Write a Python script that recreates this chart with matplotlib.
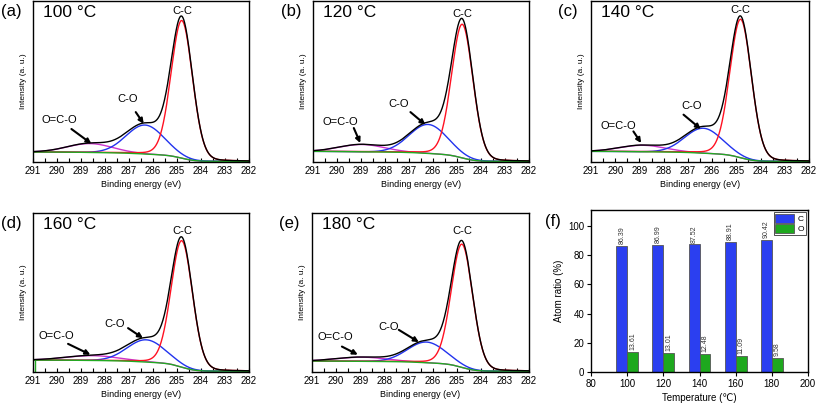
import numpy as np
import matplotlib
matplotlib.use('Agg')
import matplotlib.pyplot as plt

plt.rcParams['font.family'] = ['Liberation Sans', 'DejaVu Sans']

# ---- XPS C1s fits: one entry per panel (a)-(e) ----
panels = ['(a)', '(b)', '(c)', '(d)', '(e)']
temps = ['100 °C', '120 °C', '140 °C', '160 °C', '180 °C']

# peak centres (eV): C-C, C-O, O=C-O
cc_pos = [284.80, 284.78, 284.82, 284.80, 284.78]
co_pos = [286.33, 286.20, 286.36, 286.28, 286.25]
oco_pos = [288.62, 288.95, 288.85, 288.50, 288.90]
# peak heights above background (fraction of axis)
cc_h = [0.855, 0.830, 0.860, 0.795, 0.775]
co_h = [0.180, 0.180, 0.155, 0.140, 0.130]
oco_h = [0.055, 0.045, 0.040, 0.030, 0.026]
# FWHM (eV)
cc_w = [1.05, 1.05, 1.05, 1.05, 1.05]
co_w = [1.85, 1.85, 1.80, 1.85, 1.85]
oco_w = [2.2, 2.2, 2.2, 2.6, 2.4]
# Shirley background end levels (high-BE side, low-BE side)
bg_hi = [0.062, 0.066, 0.066, 0.075, 0.069]
bg_lo = [0.004, 0.004, 0.004, 0.005, 0.005]

# label positions (eV, y)
cc_txt = [(284.78, 0.94), (284.76, 0.92), (284.82, 0.945), (284.78, 0.885), (284.75, 0.885)]
co_txt = [(287.04, 0.39), (287.43, 0.36), (286.84, 0.346), (287.6, 0.303), (287.82, 0.286)]
co_arr = [((286.72, 0.31), (286.39, 0.238)), ((286.94, 0.31), (286.32, 0.232)),
          ((287.18, 0.294), (286.47, 0.205)), ((287.04, 0.276), (286.42, 0.213)),
          ((287.40, 0.265), (286.57, 0.188))]
oco_txt = [(289.9, 0.263), (289.86, 0.246), (289.87, 0.222), (290.03, 0.228), (290.03, 0.223)]
oco_arr = [((289.4, 0.205), (288.57, 0.114)), ((289.3, 0.211), (289.03, 0.118)),
           ((289.25, 0.19), (288.93, 0.118)), ((289.54, 0.177), (288.61, 0.109)),
           ((289.76, 0.16), (289.10, 0.109))]

# ---- panel (f): atom ratio ----
t_vals = [100, 120, 140, 160, 180]
c_ratio = [86.39, 86.99, 87.52, 88.91, 90.42]
o_ratio = [13.61, 13.01, 12.48, 11.09, 9.58]

# axes rectangles in figure fraction
rects = [[0.0404, 0.599, 0.2644, 0.3985], [0.3831, 0.599, 0.2644, 0.3985],
         [0.7234, 0.599, 0.2668, 0.3985], [0.0404, 0.0792, 0.2644, 0.3936],
         [0.3819, 0.0792, 0.2656, 0.3936]]
rect_f = [0.7234, 0.0792, 0.2656, 0.401]


def pv(x, c, h, w, eta=0.0):
    d = (x - c) / w
    return h * (eta / (1 + 4 * d ** 2) + (1 - eta) * np.exp(-4 * np.log(2) * d ** 2))


fig = plt.figure(figsize=(8.17, 4.04), dpi=100)
x = np.linspace(282, 291, 901)

for i in range(5):
    ax = fig.add_axes(rects[i])
    p_cc = pv(x, cc_pos[i], cc_h[i], cc_w[i], 0.1)
    p_co = pv(x, co_pos[i], co_h[i], co_w[i])
    p_oco = pv(x, oco_pos[i], oco_h[i], oco_w[i])
    tot = p_cc + p_co + p_oco
    # shirley type step, integrated from the low BE side
    cum = np.concatenate([[0], np.cumsum((tot[1:] + tot[:-1]) / 2)])
    bg = bg_lo[i] + (bg_hi[i] - bg_lo[i]) * cum / cum[-1]

    ax.plot(x, bg + p_oco, color='#cc33cc', lw=1)
    ax.plot(x, bg + p_co, color='#2233ee', lw=1)
    ax.plot(x, bg + p_cc, color='#ff1122', lw=1)
    ax.plot(x, bg, color='#22aa22', lw=1)
    if i == 3:
        ax.plot([290.92, 290.92], [0, bg[-1]], color='#22aa22', lw=1)
    ax.plot(x, bg + tot, color='black', lw=1)

    ax.set_xlim(291, 282)
    ax.set_ylim(0, 1)
    ax.set_yticks([])
    ax.set_xticks(range(291, 281, -1))
    ax.set_xticks(np.arange(290.5, 282, -1), minor=True)
    ax.tick_params(axis='x', which='both', direction='in', length=3, width=0.8,
                   labelsize=7, pad=3)
    for s in ax.spines.values():
        s.set_linewidth(1)
    ax.set_xlabel('Binding energy (eV)', fontsize=6.5, labelpad=3)
    ax.set_ylabel('Intensity (a. u.)', fontsize=6, labelpad=4)

    ax.text(0.045, 0.93, temps[i], transform=ax.transAxes, fontsize=12.5,
            va='center', ha='left')
    ax.text(cc_txt[i][0], cc_txt[i][1], 'C-C', fontsize=8, ha='center', va='center')
    ax.text(co_txt[i][0], co_txt[i][1], 'C-O', fontsize=8, ha='center', va='center')
    ax.text(oco_txt[i][0], oco_txt[i][1], 'O=C-O', fontsize=8, ha='center', va='center')
    for (t0, t1) in [co_arr[i], oco_arr[i]]:
        ax.annotate('', xy=t1, xytext=t0,
                    arrowprops=dict(arrowstyle='-|>', color='black', lw=1.5,
                                    mutation_scale=7, shrinkA=0, shrinkB=0))
    ax.text(-0.15, 0.935, panels[i], transform=ax.transAxes, fontsize=12,
            va='center', ha='left')

# panel (f)
ax = fig.add_axes(rect_f)
bw = 6
ax.bar(np.array(t_vals) - bw / 2, c_ratio, width=bw, color='#2b3ff0',
       edgecolor='#555555', lw=0.6, label='C')
ax.bar(np.array(t_vals) + bw / 2, o_ratio, width=bw, color='#1ea81e',
       edgecolor='#555555', lw=0.6, label='O')
for t, v in zip(t_vals, c_ratio):
    ax.text(t - bw / 2, v + 1.2, '%.2f' % v, rotation=90, fontsize=5,
            ha='center', va='bottom', color='#333333')
for t, v in zip(t_vals, o_ratio):
    ax.text(t + bw / 2, v + 1.2, '%.2f' % v, rotation=90, fontsize=5,
            ha='center', va='bottom', color='#333333')
ax.set_xlim(80, 200)
ax.set_ylim(0, 111)
ax.set_xticks(range(80, 201, 20))
ax.set_yticks(range(0, 101, 20))
ax.tick_params(which='both', direction='out', length=3, width=0.8, labelsize=7, pad=2)
for s in ax.spines.values():
    s.set_linewidth(1)
ax.set_xlabel('Temperature (℃)', fontsize=7, labelpad=3)
ax.set_ylabel('Atom ratio (%)', fontsize=7, labelpad=3)
leg = ax.legend(loc='upper right', fontsize=6, frameon=True, fancybox=False,
                edgecolor='black', handlelength=2.3, handleheight=1.3,
                handletextpad=0.4, borderpad=0.2, labelspacing=0.1,
                borderaxespad=0.25)
leg.get_frame().set_linewidth(0.6)
ax.text(-0.21, 0.93, '(f)', transform=ax.transAxes, fontsize=12,
        va='center', ha='left')

fig.savefig('out.png', dpi=100)
